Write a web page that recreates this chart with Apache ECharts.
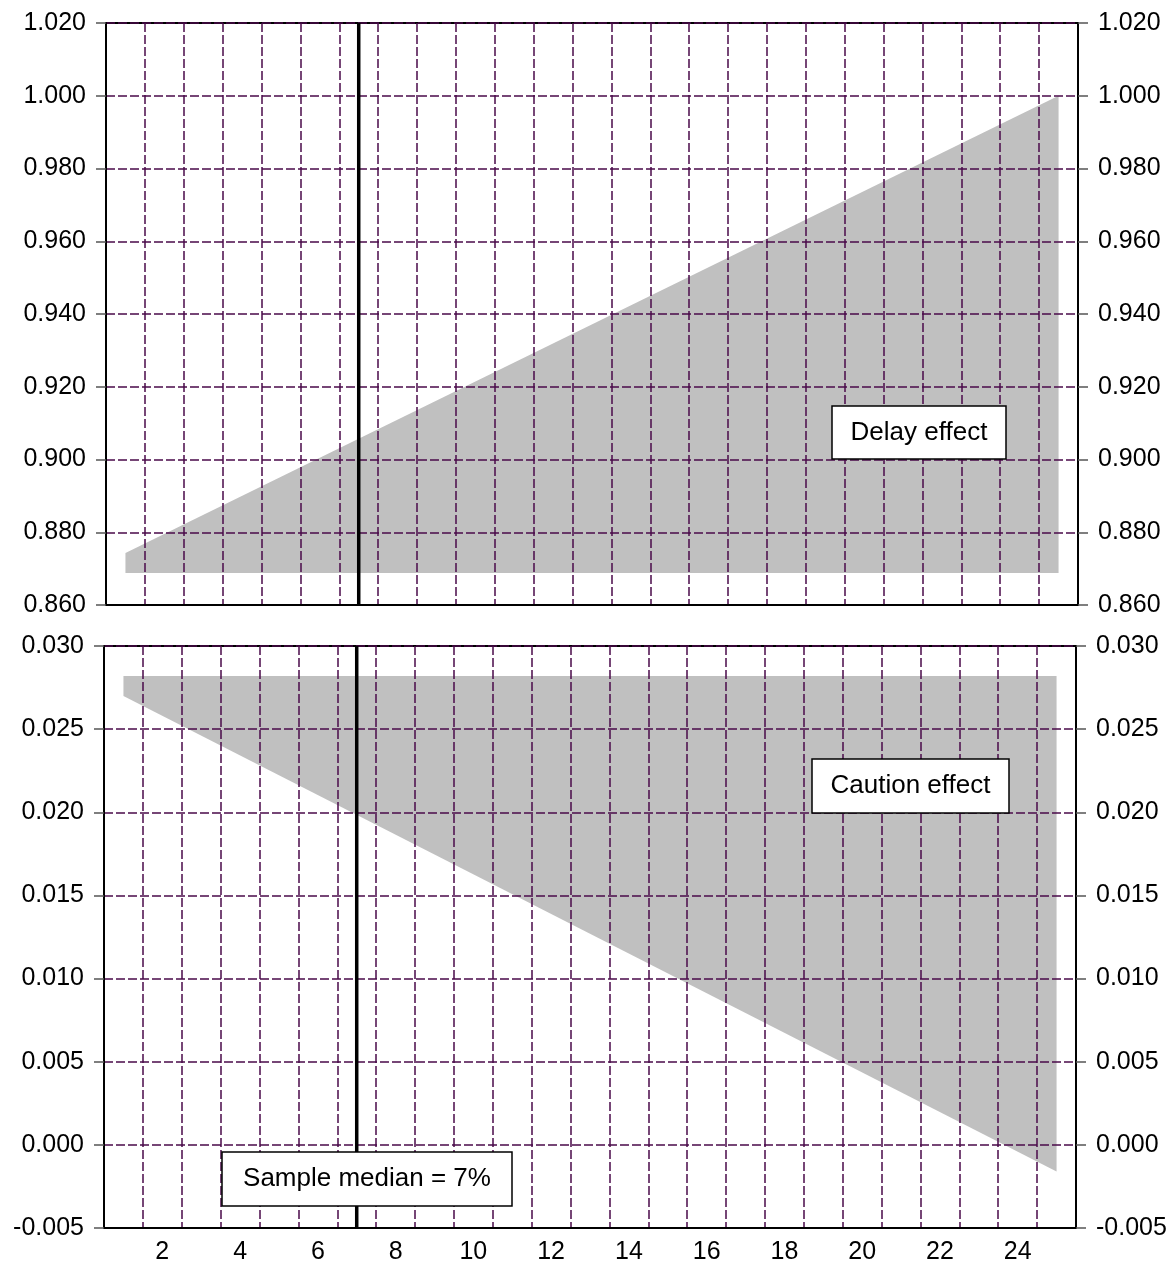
<!DOCTYPE html>
<html>
<head>
<meta charset="utf-8">
<script src="https://cdn.jsdelivr.net/npm/echarts@6/dist/echarts.min.js"></script>
<style>
  html, body { margin: 0; padding: 0; background: #fff; }
  #chart { width: 1174px; height: 1266px; }
</style>
</head>
<body>
<div id="chart"></div>
<script>
// categories on the horizontal axis
var periods = [];
for (var p = 1; p <= 25; p++) periods.push(String(p));

// delay effect band (top panel), read at the two ends
var delayX = [1, 25];
var delayUpper = [0.8743, 1.000];
var delayLower = [0.8688, 0.8688];

// caution effect band (bottom panel)
var cautionX = [1, 25];
var cautionUpper = [0.0282, 0.0282];
var cautionLower = [0.0270, -0.0016];

// sample median marker
var medianX = 7;

var topMin = 0.86, topMax = 1.02, topStep = 0.02;
var botMin = -0.005, botMax = 0.03, botStep = 0.005;

var FONT = "Liberation Sans";
var gridColor = "#4a0a4a";

function bandPoints(xs, upper, lower) {
  var pts = [];
  for (var i = 0; i < xs.length; i++) pts.push([xs[i], upper[i]]);
  for (var j = xs.length - 1; j >= 0; j--) pts.push([xs[j], lower[j]]);
  return pts;
}

function bandSeries(xIdx, yIdx, pts) {
  return {
    type: "custom",
    xAxisIndex: xIdx,
    yAxisIndex: yIdx,
    z: -1,
    silent: true,
    data: pts,
    renderItem: function (params, api) {
      if (params.dataIndex !== 0) return null;
      var shape = pts.map(function (d) { return api.coord(d); });
      return {
        type: "polygon",
        shape: { points: shape },
        style: { fill: "#c0c0c0" }
      };
    }
  };
}

function catAxis(gridIdx, showLabels) {
  return {
    type: "category",
    gridIndex: gridIdx,
    data: periods,
    boundaryGap: true,
    axisLine: { show: true, onZero: false, lineStyle: { color: "#000", width: 2 } },
    axisTick: { show: false },
    axisLabel: {
      show: showLabels,
      interval: 0,
      margin: 12,
      fontFamily: FONT,
      fontSize: 25,
      color: "#000",
      formatter: function (v) { return Number(v) % 2 === 0 ? v : ""; }
    },
    splitLine: { show: true, interval: 0, lineStyle: { color: gridColor, width: 1.5, type: [9, 3] } }
  };
}

function valXAxis(gridIdx) {
  return {
    type: "value",
    gridIndex: gridIdx,
    min: 0.5,
    max: 25.5,
    show: false
  };
}

function yAxis(gridIdx, pos, min, max, step, grid) {
  return {
    type: "value",
    gridIndex: gridIdx,
    position: pos,
    min: min,
    max: max,
    interval: step,
    axisLine: { show: true, onZero: false, lineStyle: { color: "#000", width: 2 } },
    axisTick: { show: true, length: 10, lineStyle: { color: "#555", width: 1.5 } },
    axisLabel: {
      margin: 20,
      fontFamily: FONT,
      fontSize: 25,
      color: "#000",
      formatter: function (v) { return v.toFixed(3); }
    },
    splitLine: { show: grid, lineStyle: { color: gridColor, width: 1.5, type: [9, 3] } }
  };
}

function medianLine(xIdx, yIdx, min, max) {
  return {
    type: "line",
    xAxisIndex: xIdx,
    yAxisIndex: yIdx,
    z: 5,
    silent: true,
    symbol: "none",
    lineStyle: { color: "#000", width: 3.5 },
    data: [[medianX, min], [medianX, max]]
  };
}

function box(x, y, w, h, label) {
  return [
    {
      type: "rect",
      z: 100,
      shape: { x: x, y: y, width: w, height: h },
      style: { fill: "#fff", stroke: "#000", lineWidth: 1.5 }
    },
    {
      type: "text",
      z: 101,
      x: x + w / 2,
      y: y + h / 2,
      style: {
        text: label,
        font: "26px " + FONT,
        fill: "#000",
        align: "center",
        verticalAlign: "middle",
        textAlign: "center",
        textVerticalAlign: "middle"
      }
    }
  ];
}

var chart = echarts.init(document.getElementById("chart"));
chart.setOption({
  animation: false,
  backgroundColor: "#fff",
  grid: [
    { left: 106, right: 96, top: 23, height: 582, show: true, borderColor: "#000", borderWidth: 2, backgroundColor: "transparent" },
    { left: 104, right: 98, top: 646, height: 582, show: true, borderColor: "#000", borderWidth: 2, backgroundColor: "transparent" }
  ],
  xAxis: [catAxis(0, false), valXAxis(0), catAxis(1, true), valXAxis(1)],
  yAxis: [
    yAxis(0, "left", topMin, topMax, topStep, true),
    yAxis(0, "right", topMin, topMax, topStep, false),
    yAxis(1, "left", botMin, botMax, botStep, true),
    yAxis(1, "right", botMin, botMax, botStep, false)
  ],
  series: [
    bandSeries(1, 0, bandPoints(delayX, delayUpper, delayLower)),
    bandSeries(3, 2, bandPoints(cautionX, cautionUpper, cautionLower)),
    medianLine(1, 0, topMin, topMax),
    medianLine(3, 2, botMin, botMax)
  ],
  graphic: [].concat(
    box(832, 406, 174, 53, "Delay effect"),
    box(812, 759, 197, 54, "Caution effect"),
    box(222, 1152, 290, 54, "Sample median = 7%")
  )
});
</script>
</body>
</html>
